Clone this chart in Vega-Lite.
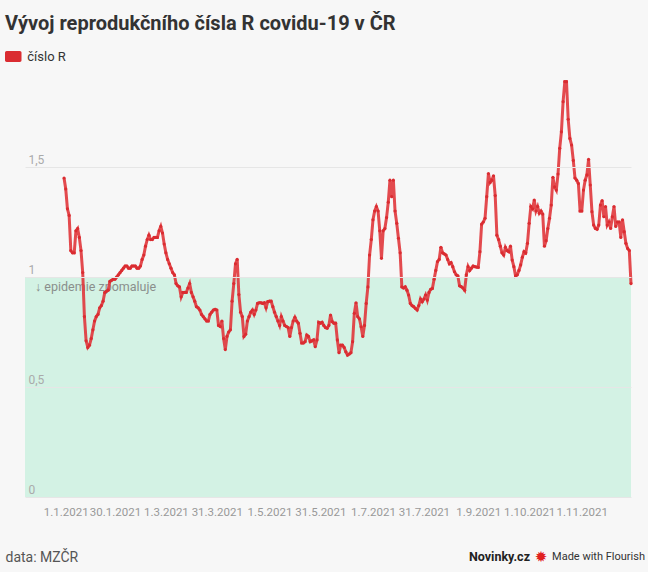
{
  "$schema": "https://vega.github.io/schema/vega-lite/v6.json",
  "width": 606,
  "height": 418,
  "autosize": {"type": "none"},
  "padding": {"left": 25, "top": 79, "right": 17, "bottom": 75},
  "background": "#f7f7f7",
  "title": {
    "text": "Vývoj reprodukčního čísla R covidu-19 v ČR",
    "anchor": "start",
    "frame": "group",
    "dx": -20,
    "dy": -16,
    "offset": 0,
    "font": "Roboto",
    "fontSize": 20,
    "fontWeight": 700,
    "color": "#333333"
  },
  "config": {"view": {"stroke": null}, "font": "Roboto"},
  "datasets": {
    "rdata": [
      {"d": "2020-12-31", "r": 1.45},
      {"d": "2021-01-01", "r": 1.40}, {"d": "2021-01-02", "r": 1.31}, {"d": "2021-01-03", "r": 1.28}, {"d": "2021-01-04", "r": 1.12}, {"d": "2021-01-05", "r": 1.11}, {"d": "2021-01-06", "r": 1.11}, {"d": "2021-01-07", "r": 1.21}, {"d": "2021-01-08", "r": 1.22}, {"d": "2021-01-09", "r": 1.18}, {"d": "2021-01-10", "r": 1.12}, {"d": "2021-01-11", "r": 1.02}, {"d": "2021-01-12", "r": 0.82}, {"d": "2021-01-13", "r": 0.71}, {"d": "2021-01-14", "r": 0.68}, {"d": "2021-01-15", "r": 0.69}, {"d": "2021-01-16", "r": 0.72}, {"d": "2021-01-17", "r": 0.76}, {"d": "2021-01-18", "r": 0.80}, {"d": "2021-01-19", "r": 0.82}, {"d": "2021-01-20", "r": 0.83}, {"d": "2021-01-21", "r": 0.86}, {"d": "2021-01-22", "r": 0.87}, {"d": "2021-01-23", "r": 0.89}, {"d": "2021-01-24", "r": 0.93}, {"d": "2021-01-25", "r": 0.935}, {"d": "2021-01-26", "r": 0.94}, {"d": "2021-01-27", "r": 0.98}, {"d": "2021-01-28", "r": 0.985}, {"d": "2021-01-29", "r": 0.99}, {"d": "2021-01-30", "r": 0.99}, {"d": "2021-01-31", "r": 1.00},
      {"d": "2021-02-01", "r": 1.01}, {"d": "2021-02-02", "r": 1.02}, {"d": "2021-02-03", "r": 1.03}, {"d": "2021-02-04", "r": 1.04}, {"d": "2021-02-05", "r": 1.05}, {"d": "2021-02-06", "r": 1.05}, {"d": "2021-02-07", "r": 1.04}, {"d": "2021-02-08", "r": 1.04}, {"d": "2021-02-09", "r": 1.05}, {"d": "2021-02-10", "r": 1.05}, {"d": "2021-02-11", "r": 1.05}, {"d": "2021-02-12", "r": 1.04}, {"d": "2021-02-13", "r": 1.04}, {"d": "2021-02-14", "r": 1.05}, {"d": "2021-02-15", "r": 1.08}, {"d": "2021-02-16", "r": 1.10}, {"d": "2021-02-17", "r": 1.14}, {"d": "2021-02-18", "r": 1.17}, {"d": "2021-02-19", "r": 1.19}, {"d": "2021-02-20", "r": 1.17}, {"d": "2021-02-21", "r": 1.17}, {"d": "2021-02-22", "r": 1.18}, {"d": "2021-02-23", "r": 1.18}, {"d": "2021-02-24", "r": 1.18}, {"d": "2021-02-25", "r": 1.21}, {"d": "2021-02-26", "r": 1.23}, {"d": "2021-02-27", "r": 1.20}, {"d": "2021-02-28", "r": 1.15},
      {"d": "2021-03-01", "r": 1.11}, {"d": "2021-03-02", "r": 1.08}, {"d": "2021-03-03", "r": 1.06}, {"d": "2021-03-04", "r": 1.04}, {"d": "2021-03-05", "r": 1.02}, {"d": "2021-03-06", "r": 1.01}, {"d": "2021-03-07", "r": 0.97}, {"d": "2021-03-08", "r": 0.96}, {"d": "2021-03-09", "r": 0.955}, {"d": "2021-03-10", "r": 0.91}, {"d": "2021-03-11", "r": 0.93}, {"d": "2021-03-12", "r": 0.93}, {"d": "2021-03-13", "r": 0.93}, {"d": "2021-03-14", "r": 0.95}, {"d": "2021-03-15", "r": 0.97}, {"d": "2021-03-16", "r": 0.93}, {"d": "2021-03-17", "r": 0.91}, {"d": "2021-03-18", "r": 0.89}, {"d": "2021-03-19", "r": 0.865}, {"d": "2021-03-20", "r": 0.86}, {"d": "2021-03-21", "r": 0.85}, {"d": "2021-03-22", "r": 0.83}, {"d": "2021-03-23", "r": 0.82}, {"d": "2021-03-24", "r": 0.81}, {"d": "2021-03-25", "r": 0.80}, {"d": "2021-03-26", "r": 0.80}, {"d": "2021-03-27", "r": 0.83}, {"d": "2021-03-28", "r": 0.84}, {"d": "2021-03-29", "r": 0.85}, {"d": "2021-03-30", "r": 0.853}, {"d": "2021-03-31", "r": 0.85},
      {"d": "2021-04-01", "r": 0.78}, {"d": "2021-04-02", "r": 0.775}, {"d": "2021-04-03", "r": 0.80}, {"d": "2021-04-04", "r": 0.72}, {"d": "2021-04-05", "r": 0.67}, {"d": "2021-04-06", "r": 0.73}, {"d": "2021-04-07", "r": 0.75}, {"d": "2021-04-08", "r": 0.76}, {"d": "2021-04-09", "r": 0.89}, {"d": "2021-04-10", "r": 0.97}, {"d": "2021-04-11", "r": 1.06}, {"d": "2021-04-12", "r": 1.08}, {"d": "2021-04-13", "r": 0.92}, {"d": "2021-04-14", "r": 0.84}, {"d": "2021-04-15", "r": 0.82}, {"d": "2021-04-16", "r": 0.73}, {"d": "2021-04-17", "r": 0.74}, {"d": "2021-04-18", "r": 0.80}, {"d": "2021-04-19", "r": 0.82}, {"d": "2021-04-20", "r": 0.84}, {"d": "2021-04-21", "r": 0.85}, {"d": "2021-04-22", "r": 0.83}, {"d": "2021-04-23", "r": 0.85}, {"d": "2021-04-24", "r": 0.88}, {"d": "2021-04-25", "r": 0.883}, {"d": "2021-04-26", "r": 0.883}, {"d": "2021-04-27", "r": 0.88}, {"d": "2021-04-28", "r": 0.883}, {"d": "2021-04-29", "r": 0.86}, {"d": "2021-04-30", "r": 0.888},
      {"d": "2021-05-01", "r": 0.89}, {"d": "2021-05-02", "r": 0.89}, {"d": "2021-05-03", "r": 0.865}, {"d": "2021-05-04", "r": 0.84}, {"d": "2021-05-05", "r": 0.82}, {"d": "2021-05-06", "r": 0.80}, {"d": "2021-05-07", "r": 0.78}, {"d": "2021-05-08", "r": 0.82}, {"d": "2021-05-09", "r": 0.80}, {"d": "2021-05-10", "r": 0.78}, {"d": "2021-05-11", "r": 0.775}, {"d": "2021-05-12", "r": 0.77}, {"d": "2021-05-13", "r": 0.73}, {"d": "2021-05-14", "r": 0.77}, {"d": "2021-05-15", "r": 0.80}, {"d": "2021-05-16", "r": 0.817}, {"d": "2021-05-17", "r": 0.80}, {"d": "2021-05-18", "r": 0.79}, {"d": "2021-05-19", "r": 0.744}, {"d": "2021-05-20", "r": 0.70}, {"d": "2021-05-21", "r": 0.70}, {"d": "2021-05-22", "r": 0.706}, {"d": "2021-05-23", "r": 0.736}, {"d": "2021-05-24", "r": 0.73}, {"d": "2021-05-25", "r": 0.706}, {"d": "2021-05-26", "r": 0.71}, {"d": "2021-05-27", "r": 0.714}, {"d": "2021-05-28", "r": 0.683}, {"d": "2021-05-29", "r": 0.714}, {"d": "2021-05-30", "r": 0.794}, {"d": "2021-05-31", "r": 0.79},
      {"d": "2021-06-01", "r": 0.794}, {"d": "2021-06-02", "r": 0.78}, {"d": "2021-06-03", "r": 0.77}, {"d": "2021-06-04", "r": 0.767}, {"d": "2021-06-05", "r": 0.78}, {"d": "2021-06-06", "r": 0.827}, {"d": "2021-06-07", "r": 0.797}, {"d": "2021-06-08", "r": 0.79}, {"d": "2021-06-09", "r": 0.79}, {"d": "2021-06-10", "r": 0.714}, {"d": "2021-06-11", "r": 0.656}, {"d": "2021-06-12", "r": 0.69}, {"d": "2021-06-13", "r": 0.69}, {"d": "2021-06-14", "r": 0.68}, {"d": "2021-06-15", "r": 0.66}, {"d": "2021-06-16", "r": 0.645}, {"d": "2021-06-17", "r": 0.65}, {"d": "2021-06-18", "r": 0.656}, {"d": "2021-06-19", "r": 0.706}, {"d": "2021-06-20", "r": 0.835}, {"d": "2021-06-21", "r": 0.883}, {"d": "2021-06-22", "r": 0.82}, {"d": "2021-06-23", "r": 0.81}, {"d": "2021-06-24", "r": 0.774}, {"d": "2021-06-25", "r": 0.73}, {"d": "2021-06-26", "r": 0.78}, {"d": "2021-06-27", "r": 0.88}, {"d": "2021-06-28", "r": 0.955}, {"d": "2021-06-29", "r": 1.10}, {"d": "2021-06-30", "r": 1.17},
      {"d": "2021-07-01", "r": 1.26}, {"d": "2021-07-02", "r": 1.30}, {"d": "2021-07-03", "r": 1.32}, {"d": "2021-07-04", "r": 1.30}, {"d": "2021-07-05", "r": 1.21}, {"d": "2021-07-06", "r": 1.085}, {"d": "2021-07-07", "r": 1.21}, {"d": "2021-07-08", "r": 1.22}, {"d": "2021-07-09", "r": 1.27}, {"d": "2021-07-10", "r": 1.34}, {"d": "2021-07-11", "r": 1.44}, {"d": "2021-07-12", "r": 1.365}, {"d": "2021-07-13", "r": 1.44}, {"d": "2021-07-14", "r": 1.30}, {"d": "2021-07-15", "r": 1.244}, {"d": "2021-07-16", "r": 1.176}, {"d": "2021-07-17", "r": 1.11}, {"d": "2021-07-18", "r": 0.955}, {"d": "2021-07-19", "r": 0.95}, {"d": "2021-07-20", "r": 0.955}, {"d": "2021-07-21", "r": 0.94}, {"d": "2021-07-22", "r": 0.918}, {"d": "2021-07-23", "r": 0.88}, {"d": "2021-07-24", "r": 0.87}, {"d": "2021-07-25", "r": 0.865}, {"d": "2021-07-26", "r": 0.857}, {"d": "2021-07-27", "r": 0.85}, {"d": "2021-07-28", "r": 0.87}, {"d": "2021-07-29", "r": 0.90}, {"d": "2021-07-30", "r": 0.888}, {"d": "2021-07-31", "r": 0.90},
      {"d": "2021-08-01", "r": 0.918}, {"d": "2021-08-02", "r": 0.895}, {"d": "2021-08-03", "r": 0.93}, {"d": "2021-08-04", "r": 0.944}, {"d": "2021-08-05", "r": 0.948}, {"d": "2021-08-06", "r": 0.99}, {"d": "2021-08-07", "r": 1.03}, {"d": "2021-08-08", "r": 1.07}, {"d": "2021-08-09", "r": 1.08}, {"d": "2021-08-10", "r": 1.135}, {"d": "2021-08-11", "r": 1.11}, {"d": "2021-08-12", "r": 1.105}, {"d": "2021-08-13", "r": 1.10}, {"d": "2021-08-14", "r": 1.08}, {"d": "2021-08-15", "r": 1.06}, {"d": "2021-08-16", "r": 1.065}, {"d": "2021-08-17", "r": 1.047}, {"d": "2021-08-18", "r": 1.024}, {"d": "2021-08-19", "r": 1.01}, {"d": "2021-08-20", "r": 1.005}, {"d": "2021-08-21", "r": 0.96}, {"d": "2021-08-22", "r": 0.956}, {"d": "2021-08-23", "r": 0.95}, {"d": "2021-08-24", "r": 0.94}, {"d": "2021-08-25", "r": 1.01}, {"d": "2021-08-26", "r": 1.047}, {"d": "2021-08-27", "r": 1.03}, {"d": "2021-08-28", "r": 1.04}, {"d": "2021-08-29", "r": 1.05}, {"d": "2021-08-30", "r": 1.047}, {"d": "2021-08-31", "r": 1.045},
      {"d": "2021-09-01", "r": 1.044}, {"d": "2021-09-02", "r": 1.115}, {"d": "2021-09-03", "r": 1.24}, {"d": "2021-09-04", "r": 1.25}, {"d": "2021-09-05", "r": 1.267}, {"d": "2021-09-06", "r": 1.365}, {"d": "2021-09-07", "r": 1.47}, {"d": "2021-09-08", "r": 1.43}, {"d": "2021-09-09", "r": 1.44}, {"d": "2021-09-10", "r": 1.46}, {"d": "2021-09-11", "r": 1.37}, {"d": "2021-09-12", "r": 1.19}, {"d": "2021-09-13", "r": 1.17}, {"d": "2021-09-14", "r": 1.14}, {"d": "2021-09-15", "r": 1.11}, {"d": "2021-09-16", "r": 1.10}, {"d": "2021-09-17", "r": 1.135}, {"d": "2021-09-18", "r": 1.12}, {"d": "2021-09-19", "r": 1.115}, {"d": "2021-09-20", "r": 1.14}, {"d": "2021-09-21", "r": 1.077}, {"d": "2021-09-22", "r": 1.047}, {"d": "2021-09-23", "r": 1.005}, {"d": "2021-09-24", "r": 1.01}, {"d": "2021-09-25", "r": 1.03}, {"d": "2021-09-26", "r": 1.055}, {"d": "2021-09-27", "r": 1.09}, {"d": "2021-09-28", "r": 1.115}, {"d": "2021-09-29", "r": 1.11}, {"d": "2021-09-30", "r": 1.153},
      {"d": "2021-10-01", "r": 1.244}, {"d": "2021-10-02", "r": 1.32}, {"d": "2021-10-03", "r": 1.31}, {"d": "2021-10-04", "r": 1.35}, {"d": "2021-10-05", "r": 1.30}, {"d": "2021-10-06", "r": 1.32}, {"d": "2021-10-07", "r": 1.29}, {"d": "2021-10-08", "r": 1.30}, {"d": "2021-10-09", "r": 1.286}, {"d": "2021-10-10", "r": 1.14}, {"d": "2021-10-11", "r": 1.165}, {"d": "2021-10-12", "r": 1.22}, {"d": "2021-10-13", "r": 1.267}, {"d": "2021-10-14", "r": 1.327}, {"d": "2021-10-15", "r": 1.453}, {"d": "2021-10-16", "r": 1.41}, {"d": "2021-10-17", "r": 1.395}, {"d": "2021-10-18", "r": 1.468}, {"d": "2021-10-19", "r": 1.585}, {"d": "2021-10-20", "r": 1.66}, {"d": "2021-10-21", "r": 1.797}, {"d": "2021-10-22", "r": 1.888}, {"d": "2021-10-23", "r": 1.888}, {"d": "2021-10-24", "r": 1.717}, {"d": "2021-10-25", "r": 1.63}, {"d": "2021-10-26", "r": 1.60}, {"d": "2021-10-27", "r": 1.53}, {"d": "2021-10-28", "r": 1.45}, {"d": "2021-10-29", "r": 1.44}, {"d": "2021-10-30", "r": 1.425}, {"d": "2021-10-31", "r": 1.30},
      {"d": "2021-11-01", "r": 1.30}, {"d": "2021-11-02", "r": 1.395}, {"d": "2021-11-03", "r": 1.44}, {"d": "2021-11-04", "r": 1.464}, {"d": "2021-11-05", "r": 1.535}, {"d": "2021-11-06", "r": 1.418}, {"d": "2021-11-07", "r": 1.297}, {"d": "2021-11-08", "r": 1.236}, {"d": "2021-11-09", "r": 1.221}, {"d": "2021-11-10", "r": 1.217}, {"d": "2021-11-11", "r": 1.236}, {"d": "2021-11-12", "r": 1.327}, {"d": "2021-11-13", "r": 1.347}, {"d": "2021-11-14", "r": 1.274}, {"d": "2021-11-15", "r": 1.32}, {"d": "2021-11-16", "r": 1.236}, {"d": "2021-11-17", "r": 1.25}, {"d": "2021-11-18", "r": 1.221}, {"d": "2021-11-19", "r": 1.274}, {"d": "2021-11-20", "r": 1.32}, {"d": "2021-11-21", "r": 1.23}, {"d": "2021-11-22", "r": 1.25}, {"d": "2021-11-23", "r": 1.25}, {"d": "2021-11-24", "r": 1.18}, {"d": "2021-11-25", "r": 1.26}, {"d": "2021-11-26", "r": 1.206}, {"d": "2021-11-27", "r": 1.153}, {"d": "2021-11-28", "r": 1.13}, {"d": "2021-11-29", "r": 1.12}, {"d": "2021-11-30", "r": 0.97}
    ]
  },
  "layer": [
    {
      "data": {"values": [{"lo": 0, "hi": 1}]},
      "mark": {"type": "rect", "color": "#d3f2e4", "opacity": 1},
      "encoding": {
        "y": {"field": "lo", "type": "quantitative"},
        "y2": {"field": "hi"}
      }
    },
    {
      "data": {"values": [{"t": "↓ epidemie zpomaluje"}]},
      "mark": {"type": "text", "align": "left", "baseline": "middle", "dx": 10, "dy": 10, "fontSize": 12.5, "color": "#8a8f8c", "font": "Roboto"},
      "encoding": {
        "x": {"datum": {"year": 2020, "month": 12, "date": 8, "utc": true}, "type": "temporal"},
        "y": {"datum": 1, "type": "quantitative"},
        "text": {"field": "t"}
      }
    },
    {
      "data": {"name": "rdata"},
      "mark": {"type": "line", "strokeWidth": 3, "opacity": 0.9, "color": "#e0363b", "interpolate": "linear"},
      "encoding": {
        "x": {
          "field": "d",
          "type": "temporal",
          "scale": {"type": "utc", "domain": [{"year": 2020, "month": 12, "date": 8, "utc": true}, {"year": 2021, "month": 11, "date": 30, "utc": true}]},
          "axis": {
            "values": [
              {"year": 2021, "month": 1, "date": 1, "utc": true},
              {"year": 2021, "month": 1, "date": 30, "utc": true},
              {"year": 2021, "month": 3, "date": 1, "utc": true},
              {"year": 2021, "month": 3, "date": 31, "utc": true},
              {"year": 2021, "month": 5, "date": 1, "utc": true},
              {"year": 2021, "month": 5, "date": 31, "utc": true},
              {"year": 2021, "month": 7, "date": 1, "utc": true},
              {"year": 2021, "month": 7, "date": 31, "utc": true},
              {"year": 2021, "month": 9, "date": 1, "utc": true},
              {"year": 2021, "month": 10, "date": 1, "utc": true},
              {"year": 2021, "month": 11, "date": 1, "utc": true}
            ],
            "format": "%-d.%-m.%Y",
            "labelColor": "#999999",
            "labelFontSize": 11.5,
            "labelPadding": 9,
            "labelOverlap": false,
            "labelFlush": false,
            "ticks": false,
            "tickSize": 0,
            "domain": false,
            "grid": false,
            "title": "data: MZČR",
            "titleX": -20,
            "titleY": 60,
            "titleAlign": "left",
            "titleBaseline": "middle",
            "titleFontSize": 14,
            "titleFontWeight": "normal",
            "titleColor": "#555555"
          }
        },
        "y": {
          "field": "r",
          "type": "quantitative",
          "scale": {"domain": [0, 1.9], "nice": false, "zero": true},
          "axis": {
            "values": [0, 0.5, 1, 1.5],
            "labelExpr": "replace(format(datum.value, '~g'), '.', ',')",
            "labelAlign": "left",
            "labelBaseline": "bottom",
            "labelPadding": -3,
            "labelOffset": -1,
            "labelColor": "#aaaaaa",
            "labelFontSize": 12,
            "ticks": false,
            "tickSize": 0,
            "domain": false,
            "grid": true,
            "gridColor": "#e6e6e6",
            "title": null,
            "zindex": 1
          }
        }
      }
    },
    {
      "data": {"name": "rdata"},
      "mark": {"type": "point", "filled": true, "size": 10, "opacity": 1},
      "encoding": {
        "x": {"field": "d", "type": "temporal"},
        "y": {"field": "r", "type": "quantitative"},
        "color": {
          "datum": "číslo R",
          "type": "nominal",
          "scale": {"range": ["#da2c31"]},
          "legend": {
            "title": null,
            "orient": "none",
            "legendX": -18.25,
            "legendY": -29,
            "padding": 0,
            "symbolType": "M-1.2,-1 H1.2 A0.3,0.3 0 0 1 1.5,-0.7 V0.7 A0.3,0.3 0 0 1 1.2,1 H-1.2 A0.3,0.3 0 0 1 -1.5,0.7 V-0.7 A0.3,0.3 0 0 1 -1.2,-1 Z",
            "symbolSize": 121,
            "symbolFillColor": "#e0262c",
            "symbolStrokeWidth": 0,
            "symbolOpacity": 1,
            "labelOffset": 7.5,
            "labelFontSize": 13,
            "labelColor": "#333333"
          }
        }
      }
    },
    {
      "data": {"values": [{"t": "Made with Flourish"}]},
      "mark": {"type": "text", "align": "right", "baseline": "middle", "dx": 14, "fontSize": 11, "color": "#333333", "font": "Roboto"},
      "encoding": {
        "x": {"datum": {"year": 2021, "month": 11, "date": 30, "utc": true}, "type": "temporal"},
        "y": {"datum": -0.273, "type": "quantitative"},
        "text": {"field": "t"}
      }
    },
    {
      "data": {"values": [{"t": "✹"}]},
      "mark": {"type": "text", "align": "center", "baseline": "middle", "dx": -90, "fontSize": 15, "color": "#e02020", "font": "DejaVu Sans"},
      "encoding": {
        "x": {"datum": {"year": 2021, "month": 11, "date": 30, "utc": true}, "type": "temporal"},
        "y": {"datum": -0.273, "type": "quantitative"},
        "text": {"field": "t"}
      }
    },
    {
      "data": {"values": [{"t": "Novinky.cz"}]},
      "mark": {"type": "text", "align": "right", "baseline": "middle", "dx": -101, "fontSize": 12.5, "fontWeight": "bold", "color": "#222222", "font": "Roboto"},
      "encoding": {
        "x": {"datum": {"year": 2021, "month": 11, "date": 30, "utc": true}, "type": "temporal"},
        "y": {"datum": -0.273, "type": "quantitative"},
        "text": {"field": "t"}
      }
    }
  ]
}
